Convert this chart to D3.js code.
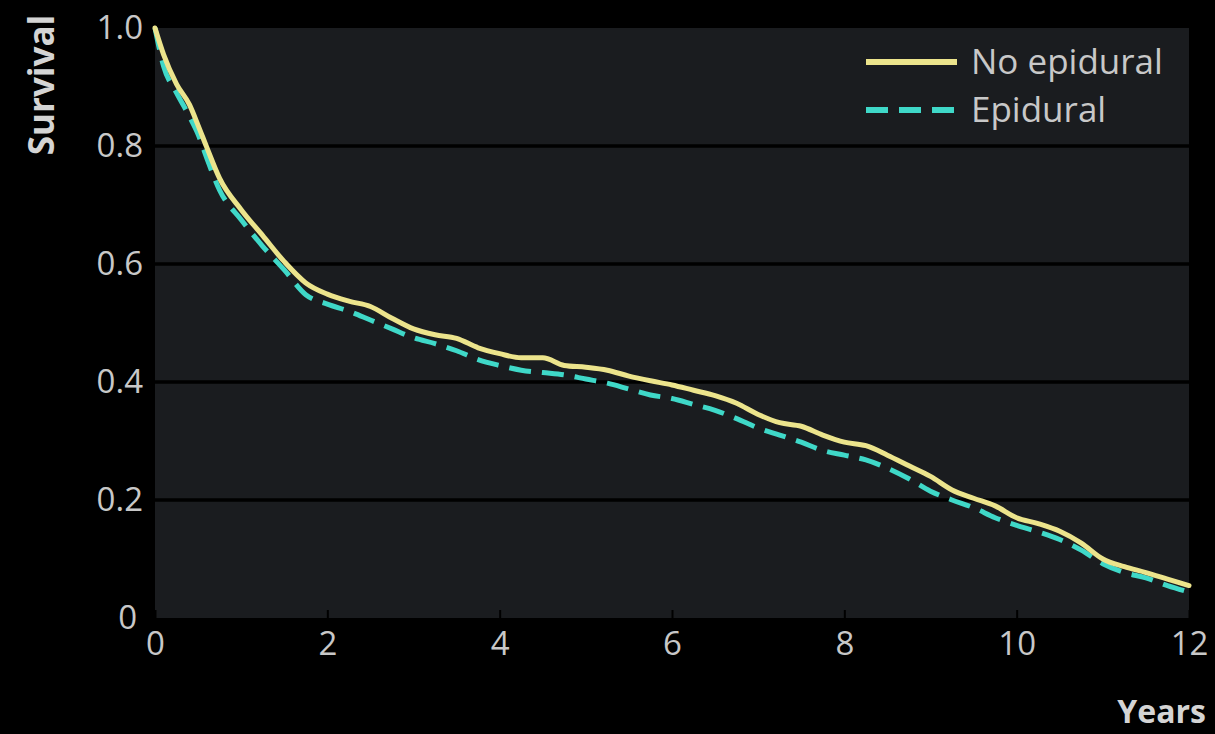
<!DOCTYPE html>
<html>
<head>
<meta charset="utf-8">
<script src="https://cdn.jsdelivr.net/npm/d3@7"></script>
<style>
  html, body { margin: 0; padding: 0; background: #000; }
  svg { display: block; }
</style>
</head>
<body>
<svg id="chart" width="1215" height="734"></svg>
<script>
// ---- data ----
const years = [0, 0.1, 0.25, 0.4, 0.5, 0.6, 0.75, 1.0, 1.25, 1.5, 1.75, 2.0, 2.25, 2.5, 2.75, 3.0, 3.25, 3.5, 3.75, 4.0, 4.25, 4.5, 4.75, 5.0, 5.25, 5.5, 5.75, 6.0, 6.25, 6.5, 6.75, 7.0, 7.25, 7.5, 7.75, 8.0, 8.25, 8.5, 8.75, 9.0, 9.25, 9.5, 9.75, 10.0, 10.25, 10.5, 10.75, 11.0, 11.25, 11.5, 11.75, 12.0];
const noEpidural = [1.0, 0.955, 0.905, 0.87, 0.835, 0.798, 0.745, 0.692, 0.648, 0.604, 0.568, 0.549, 0.537, 0.528, 0.508, 0.49, 0.48, 0.474, 0.458, 0.448, 0.441, 0.441, 0.428, 0.425, 0.42, 0.41, 0.402, 0.395, 0.386, 0.377, 0.364, 0.345, 0.331, 0.325, 0.31, 0.298, 0.292, 0.276, 0.258, 0.24, 0.217, 0.203, 0.19, 0.17, 0.16, 0.147, 0.127, 0.1, 0.087, 0.077, 0.066, 0.055];
const epidural = [1.0, 0.935, 0.89, 0.85, 0.82, 0.78, 0.725, 0.675, 0.63, 0.59, 0.548, 0.532, 0.52, 0.505, 0.49, 0.475, 0.465, 0.453, 0.438, 0.428, 0.42, 0.416, 0.412, 0.405, 0.398, 0.388, 0.378, 0.372, 0.362, 0.352, 0.338, 0.322, 0.31, 0.298, 0.284, 0.276, 0.268, 0.254, 0.236, 0.215, 0.2, 0.187, 0.17, 0.157, 0.146, 0.133, 0.115, 0.092, 0.077, 0.068, 0.055, 0.044];
const xTicks = [0, 2, 4, 6, 8, 10, 12];
const yTicks = [0, 0.2, 0.4, 0.6, 0.8, 1.0];
const yTickLabels = ["0", "0.2", "0.4", "0.6", "0.8", "1.0"];
const seriesNames = ["No epidural", "Epidural"];

// ---- layout ----
const svg = d3.select("#chart");
const W = 1215, H = 734;
const plot = { left: 155, right: 1189, top: 28, bottom: 618 };
const font = "'Open Sans', 'Noto Sans', sans-serif";
const textColor = "#c8c8c8";
const yellow = "#ece48c";
const teal = "#3fd8c8";

svg.append("rect").attr("width", W).attr("height", H).attr("fill", "#000");

const x = d3.scaleLinear().domain([0, 12]).range([plot.left, plot.right]);
const y = d3.scaleLinear().domain([0, 1]).range([plot.bottom, plot.top]);

svg.append("rect")
  .attr("x", plot.left).attr("y", plot.top)
  .attr("width", plot.right - plot.left).attr("height", plot.bottom - plot.top)
  .attr("fill", "#1a1c1f");

// horizontal gridlines
svg.append("g").selectAll("line")
  .data(yTicks.filter(d => d > 0 && d < 1))
  .join("line")
  .attr("x1", plot.left).attr("x2", plot.right)
  .attr("y1", d => y(d)).attr("y2", d => y(d))
  .attr("stroke", "#000").attr("stroke-width", 3.5);

// y axis labels
const yAxis = d3.axisLeft(y).tickValues(yTicks)
  .tickFormat((d, i) => yTickLabels[i]).tickSize(0).tickPadding(12);
const gy = svg.append("g").attr("transform", `translate(${plot.left},0)`).call(yAxis);
gy.select(".domain").remove();
gy.selectAll("text")
  .attr("fill", textColor).attr("font-family", font).attr("font-size", 33)
  .attr("dx", d => d === 0 ? -6 : 0);

// x axis
const xAxis = d3.axisBottom(x).tickValues(xTicks).tickSizeInner(-8).tickSizeOuter(0).tickPadding(14);
const gx = svg.append("g").attr("transform", `translate(0,${plot.bottom})`).call(xAxis);
gx.select(".domain").remove();
gx.selectAll(".tick line").attr("stroke", "#000").attr("stroke-width", 2);
gx.selectAll("text")
  .attr("fill", textColor).attr("font-family", font).attr("font-size", 33);

// lines
const lineGen = vals => d3.line()
  .curve(d3.curveMonotoneX)
  .x((d, i) => x(years[i]))
  .y(d => y(d))(vals);

svg.append("path")
  .attr("d", lineGen(epidural))
  .attr("fill", "none").attr("stroke", teal).attr("stroke-width", 5)
  .attr("stroke-dasharray", "22,11").attr("stroke-linejoin", "round");

svg.append("path")
  .attr("d", lineGen(noEpidural))
  .attr("fill", "none").attr("stroke", yellow).attr("stroke-width", 5)
  .attr("stroke-linejoin", "round").attr("stroke-linecap", "round");

// legend
const legend = svg.append("g");
const legItems = [
  { name: seriesNames[0], color: yellow, dash: null, yy: 62 },
  { name: seriesNames[1], color: teal, dash: "22,11", yy: 110 }
];
legItems.forEach(it => {
  legend.append("line")
    .attr("x1", 866).attr("x2", 957).attr("y1", it.yy).attr("y2", it.yy)
    .attr("stroke", it.color).attr("stroke-width", 6)
    .attr("stroke-dasharray", it.dash);
  legend.append("text")
    .attr("x", 971).attr("y", it.yy)
    .attr("dy", "0.35em")
    .attr("fill", textColor).attr("font-family", font).attr("font-size", 35)
    .text(it.name);
});

// axis titles
svg.append("text")
  .attr("transform", "translate(54,85) rotate(-90)")
  .attr("text-anchor", "middle")
  .attr("fill", "#d4d4d4").attr("font-family", font).attr("font-weight", 700).attr("font-size", 35)
  .text("Survival");

svg.append("text")
  .attr("x", 1206).attr("y", 723)
  .attr("text-anchor", "end")
  .attr("fill", "#d4d4d4").attr("font-family", font).attr("font-weight", 700).attr("font-size", 32)
  .text("Years");
</script>
</body>
</html>
